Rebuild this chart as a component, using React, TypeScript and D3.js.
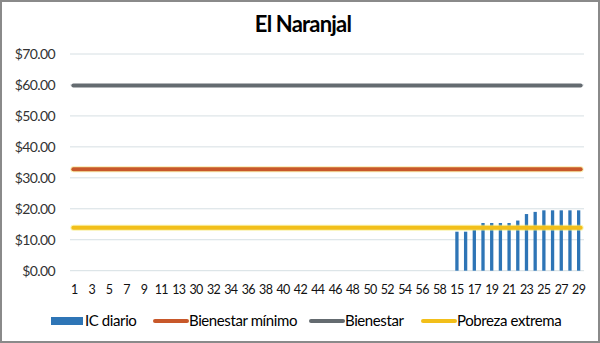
import { useEffect, useRef } from "react"
import * as d3 from "d3"

const categories = [
  "1","2","3","4","5","6","7","8","9","10","11","12","13","14",
  "30","31","32","33","34","35","36","37","38","39","40","41","42","43","44",
  "45","46","47","48","49","50","51","52","53","54","55","56","57","58","59",
  "15","16","17","18","19","20","21","22","23","24","25","26","27","28","29",
]
// IC diario only has values on the last 15 days
const icDiario: (number | null)[] = [
  ...Array(44).fill(null),
  12.6, 12.6, 13.2, 15.4, 15.4, 15.4, 15.4, 16.2, 18.3, 19.0, 19.5, 19.5, 19.5, 19.5, 19.5,
]
const bienestarMinimo = 32.8
const bienestar = 59.8
const pobrezaExtrema = 13.9
const yTicks = [0, 10, 20, 30, 40, 50, 60, 70]

const legendItems = [
  { label: "IC diario", color: "#2e75b6", kind: "bar", x: 51 },
  { label: "Bienestar mínimo", color: "#c8582a", kind: "line", x: 155 },
  { label: "Bienestar", color: "#646b70", kind: "line", x: 311 },
  { label: "Pobreza extrema", color: "#f2bf1a", kind: "line", x: 423 },
]

const App = () => {
  const ref = useRef<SVGSVGElement>(null)
  const width = 600
  const height = 343
  const font = "Lato, 'Open Sans', sans-serif"

  useEffect(() => {
    document.body.style.margin = "0"
    const svg = d3.select(ref.current)
    svg.selectAll("*").remove()

    svg.append("rect")
      .attr("x", 1).attr("y", 1)
      .attr("width", width - 2).attr("height", height - 2)
      .attr("fill", "#fff").attr("stroke", "#8a8a8a").attr("stroke-width", 2)

    svg.append("text")
      .attr("x", 303).attr("y", 32)
      .attr("text-anchor", "middle")
      .attr("font-family", font).attr("font-weight", "bold")
      .attr("font-size", 22).attr("fill", "#000")
      .attr("letter-spacing", -0.8)
      .text("El Naranjal")

    const xScale = d3.scaleBand().domain(categories).range([70, 583]).paddingInner(0.62).paddingOuter(0.31)
    const yScale = d3.scaleLinear().domain([0, 70]).range([270.7, 54])
    const cx = (c: string) => (xScale(c) as number) + xScale.bandwidth() / 2

    // grid
    svg.append("g").selectAll("line").data(yTicks).join("line")
      .attr("x1", 70).attr("x2", 584)
      .attr("y1", d => yScale(d)).attr("y2", d => yScale(d))
      .attr("stroke", "#d6dfe3").attr("stroke-width", 1)

    svg.append("g").selectAll("text").data(yTicks).join("text")
      .attr("x", 55).attr("y", d => yScale(d)).attr("dy", "0.35em")
      .attr("text-anchor", "end")
      .attr("font-family", font).attr("font-size", 14).attr("fill", "#333")
      .attr("letter-spacing", -0.6)
      .text(d => "$" + d.toFixed(2))

    // x labels every other category
    svg.append("g").selectAll("text")
      .data(categories.filter((_, i) => i % 2 === 0)).join("text")
      .attr("x", d => cx(d)).attr("y", 294)
      .attr("text-anchor", "middle")
      .attr("font-family", font).attr("font-size", 12.5).attr("fill", "#111")
      .attr("letter-spacing", -0.7)
      .text(d => d)

    // bars
    const barData = categories.map((c, i) => ({ c, v: icDiario[i] })).filter(d => d.v !== null)
    svg.append("g").selectAll("rect").data(barData).join("rect")
      .attr("x", d => xScale(d.c) as number)
      .attr("y", d => yScale(d.v as number))
      .attr("width", xScale.bandwidth())
      .attr("height", d => yScale(0) - yScale(d.v as number))
      .attr("fill", "#2e75b6")

    const x0 = cx(categories[0]) - 1
    const x1 = cx(categories[categories.length - 1]) + 2
    const hline = (v: number, color: string, glow?: string) => {
      if (glow) {
        svg.append("line")
          .attr("x1", x0).attr("x2", x1).attr("y1", yScale(v)).attr("y2", yScale(v))
          .attr("stroke", glow).attr("stroke-width", 6).attr("stroke-linecap", "round").attr("opacity", 0.6)
      }
      svg.append("line")
        .attr("x1", x0).attr("x2", x1).attr("y1", yScale(v)).attr("y2", yScale(v))
        .attr("stroke", color).attr("stroke-width", 4).attr("stroke-linecap", "round")
    }
    hline(bienestar, "#646b70")
    hline(bienestarMinimo, "#c8582a", "#f6e27a")
    hline(pobrezaExtrema, "#f2bf1a", "#f8ec7a")

    // legend
    const lg = svg.append("g")
    legendItems.forEach(item => {
      if (item.kind === "bar") {
        lg.append("rect").attr("x", item.x).attr("y", 317).attr("width", 32).attr("height", 8).attr("fill", item.color)
      } else {
        lg.append("line").attr("x1", item.x).attr("x2", item.x + 32).attr("y1", 321).attr("y2", 321)
          .attr("stroke", item.color).attr("stroke-width", 4).attr("stroke-linecap", "round")
      }
      lg.append("text").attr("x", item.x + 34).attr("y", 321).attr("dy", "0.35em")
        .attr("font-family", font).attr("font-size", 15).attr("fill", "#000")
        .attr("letter-spacing", -0.4)
        .text(item.label)
    })
  }, [])

  return <svg ref={ref} width={width} height={height} style={{ display: "block" }} />
}

export default App
